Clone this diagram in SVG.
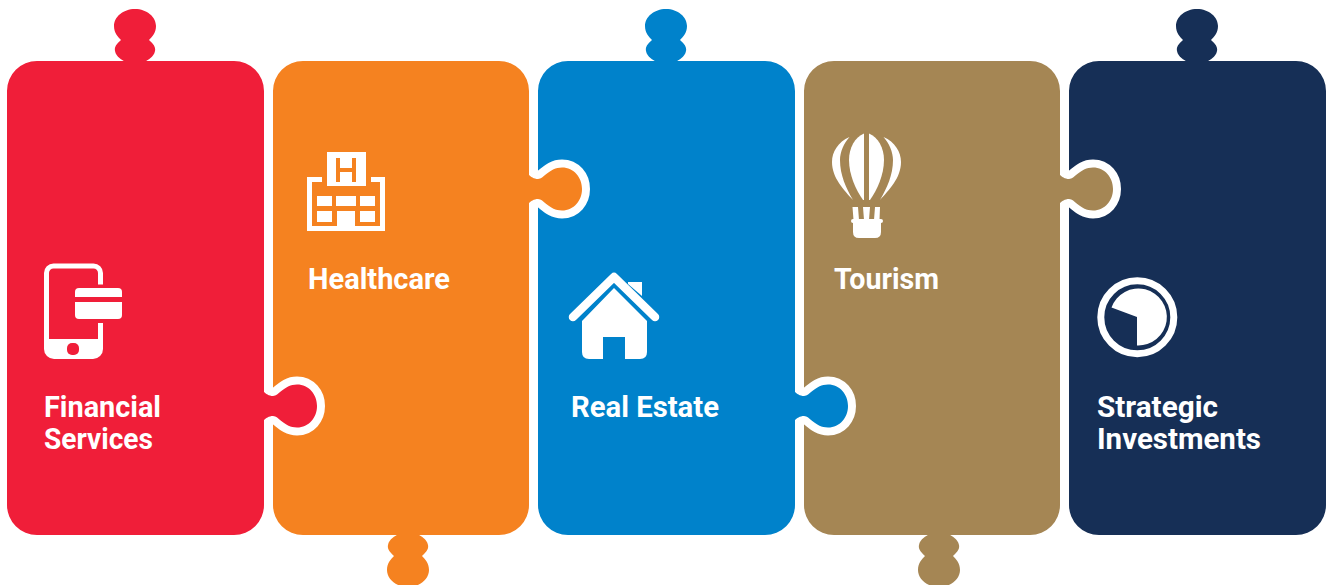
<svg xmlns="http://www.w3.org/2000/svg" width="1330" height="585" viewBox="0 0 1330 585">
<style>
.card{stroke:#fff;stroke-width:16;paint-order:stroke;stroke-linejoin:round}
.lbl{font-family:"Roboto","Liberation Sans",sans-serif;font-weight:700;font-size:29px;fill:#fff}
.w{fill:#fff}
</style>
<rect width="1330" height="585" fill="#fff"/>
<g id="node-strategic-investments">
<path class="card" fill="#162F56" d="M1099 61H1183c1.500 0 3 0 3 0c-1-.5-8-4-9-10c-1-5 3-8 6-11c-3-3-7-7-7-14c0-9 9-17 21-17s21 8 21 17c0 7-4 11-7 14c3 3 7 6 6 11c-1 6-8 9.500-9 10H1296a30 30 0 0 1 30 30V505a30 30 0 0 1-30 30H1099a30 30 0 0 1-30-30V91a30 30 0 0 1 30-30Z"/>
<circle cx="1137.300" cy="317.300" r="36.500" fill="none" stroke="#fff" stroke-width="7"/>
<path class="w" d="M1137 317L1111.500 307.500A28.500 28.500 0 1 1 1137 345.500Z"/>
<text class="lbl" x="1097" y="417" textLength="121" lengthAdjust="spacingAndGlyphs">Strategic</text>
<text class="lbl" x="1097" y="449" textLength="164" lengthAdjust="spacingAndGlyphs">Investments</text>
</g>
<g id="node-tourism">
<path class="card" fill="#A58654" d="M834 61H1030a30 30 0 0 1 30 30V175c1.500 1.500 5 4 9 4c6 0 11-11.500 24-11.500c12 0 20 10 20 21.500s-8 21.500-20 21.500c-13 0-18-11.500-24-11.500c-4 0-7.500 2.500-9 4V505a30 30 0 0 1-30 30H950c1 .5 8 4 9 10c1 5-3 8-6 11c3 3 7 7 7 14c0 9-9 17-21 17s-21-8-21-17c0-7 4-11 7-14c-3-3-7-6-6-11c1-6 8-9.500 9-10H834a30 30 0 0 1-30-30V91a30 30 0 0 1 30-30Z"/>
<path class="w" d="M849.500 137C838 142 832 152 832 162C832 178 844 190 853 200C846 188 840 175 840 160C840 152 844 143 849.500 137Z"/>
<path class="w" d="M864 133.500C855 137 849 148 849 160C849 175 856 190 863 200L864 200Z"/>
<path class="w" d="M869 133.500C878 137 884 148 884 160C884 175 877 190 870 200L869 200Z"/>
<path class="w" d="M883.500 137C895 142 901 152 901 162C901 178 889 190 880 200C887 188 893 175 893 160C893 152 889 143 883.500 137Z"/>
<path class="w" d="M852.500 207H858L859 220H853.500ZM863 207H870L869 220H864ZM875 207H880L879.500 220H874Z"/>
<path class="w" d="M853 219H881Q883 219 883 221Q883 223 881 223V232Q881 238 875 238H859Q853 238 853 232V223Q851 223 851 221Q851 219 853 219Z"/>
<text class="lbl" x="834" y="289" textLength="105" lengthAdjust="spacingAndGlyphs">Tourism</text>
</g>
<g id="node-real-estate">
<path class="card" fill="#0082CB" d="M568 61H652c1.500 0 3 0 3 0c-1-.5-8-4-9-10c-1-5 3-8 6-11c-3-3-7-7-7-14c0-9 9-17 21-17s21 8 21 17c0 7-4 11-7 14c3 3 7 6 6 11c-1 6-8 9.500-9 10H765a30 30 0 0 1 30 30V392c1.500 1.500 5 4 9 4c6 0 11-11.500 24-11.500c12 0 20 10 20 21.500s-8 21.500-20 21.500c-13 0-18-11.500-24-11.500c-4 0-7.500 2.500-9 4V505a30 30 0 0 1-30 30H568a30 30 0 0 1-30-30V91a30 30 0 0 1 30-30Z"/>
<path class="w" d="M628 282H642V296L628 284Z"/>
<polyline points="573,317 614,277 655,317" fill="none" stroke="#fff" stroke-width="8.500" stroke-linecap="round" stroke-linejoin="round"/>
<path class="w" d="M614 288L647 321V352Q647 359 640 359H625V337H603V359H589Q582 359 582 352V321Z"/>
<text class="lbl" x="571" y="417" textLength="148" lengthAdjust="spacingAndGlyphs">Real Estate</text>
</g>
<g id="node-healthcare">
<path class="card" fill="#F58220" d="M303 61H499a30 30 0 0 1 30 30V175c1.500 1.500 5 4 9 4c6 0 11-11.500 24-11.500c12 0 20 10 20 21.500s-8 21.500-20 21.500c-13 0-18-11.500-24-11.500c-4 0-7.500 2.500-9 4V505a30 30 0 0 1-30 30H419c1 .5 8 4 9 10c1 5-3 8-6 11c3 3 7 7 7 14c0 9-9 17-21 17s-21-8-21-17c0-7 4-11 7-14c-3-3-7-6-6-11c1-6 8-9.500 9-10H303a30 30 0 0 1-30-30V91a30 30 0 0 1 30-30Z"/>
<path class="w" fill-rule="evenodd" d="M327 152H366V186H327ZM336 158V182H340V172H352V182H356V158H352V168H340V158Z"/>
<path class="w" d="M307 177H322V182H312V226H337V211H355V226H380V182H371V177H385V231H307Z"/>
<path class="w" d="M317 196H332V206H317ZM336 196H356V206H336ZM360 196H375V206H360ZM317 211H332V222H317ZM360 211H375V222H360Z"/>
<text class="lbl" x="308" y="289" textLength="142" lengthAdjust="spacingAndGlyphs">Healthcare</text>
</g>
<g id="node-financial-services">
<path class="card" fill="#F01E39" d="M37 61H121c1.500 0 3 0 3 0c-1-.5-8-4-9-10c-1-5 3-8 6-11c-3-3-7-7-7-14c0-9 9-17 21-17s21 8 21 17c0 7-4 11-7 14c3 3 7 6 6 11c-1 6-8 9.500-9 10H234a30 30 0 0 1 30 30V392c1.500 1.500 5 4 9 4c6 0 11-11.500 24-11.500c12 0 20 10 20 21.500s-8 21.500-20 21.500c-13 0-18-11.500-24-11.500c-4 0-7.500 2.500-9 4V505a30 30 0 0 1-30 30H37a30 30 0 0 1-30-30V91a30 30 0 0 1 30-30Z"/>
<path fill="none" stroke="#fff" stroke-width="5" d="M100.500 284.500V273a7 7 0 0 0-7-7H53.500a7 7 0 0 0-7 7V342M100.500 323V342"/>
<path class="w" d="M44 339H103V349a10 10 0 0 1-10 10H54a10 10 0 0 1-10-10Z"/>
<rect x="67" y="343" width="12" height="12" rx="5" fill="#F01E39"/>
<rect class="w" x="75" y="288" width="47" height="31" rx="4"/>
<rect x="75" y="297" width="47" height="5" fill="#F01E39"/>
<text class="lbl" x="44" y="417" textLength="117" lengthAdjust="spacingAndGlyphs">Financial</text>
<text class="lbl" x="44" y="449" textLength="109" lengthAdjust="spacingAndGlyphs">Services</text>
</g>
<g id="connectors"></g>
</svg>
